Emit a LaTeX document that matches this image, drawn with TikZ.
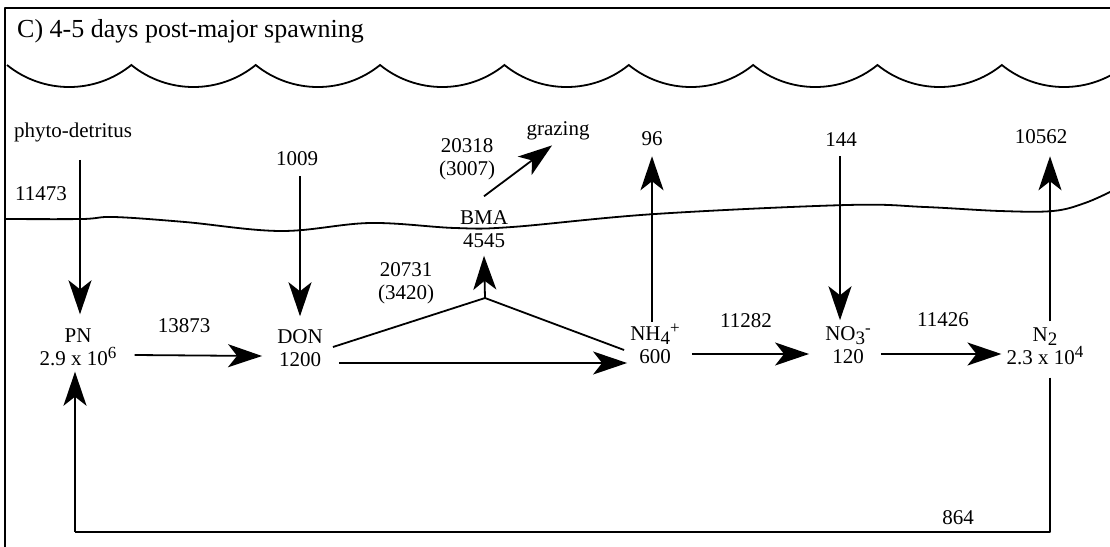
\documentclass[tikz,border=0pt]{standalone}
\usepackage{fontspec}
\setmainfont{Liberation Serif}
\usetikzlibrary{arrows.meta}
% lowered and raised indices set in running text
\newcommand\lowr[1]{\raisebox{-4pt}{\fontsize{19}{19}\selectfont #1}}
\newcommand\highr[1]{\raisebox{7pt}{\fontsize{17}{17}\selectfont #1}}
\begin{document}
\begin{tikzpicture}[x=1pt,y=-1pt,
  txt/.style={inner sep=0pt, font=\fontsize{21}{23}\selectfont},
  qty/.style={txt, align=center},
  ln/.style={line width=1.8pt, line join=round},
  arr/.style={ln, -{Stealth[length=34pt,width=23pt,inset=9pt]}},
  wave/.style={line width=1.8pt}]
\useasboundingbox (0,0) rectangle (1110,546);
\begin{scope}
\clip (5,0) rectangle (1110,546);
% water surface: a row of scallops
\draw[wave] (7,65)
  \foreach \i in {0,...,8} { arc[start angle=129, end angle=51, radius=98.8] };
% sediment surface
\draw[wave] plot[smooth, tension=0.6] coordinates {
  (4,219) (82,219) (114,217) (185,222) (281,231) (370,223) (455,228)
  (512,227) (655,214) (847,205) (925,207) (1000,211) (1053,211) (1085,203) (1112,191)};
\end{scope}
% frame
\draw[ln, line cap=rect] (5,546) -- (5,8) -- (1112,8);
\node[txt, font=\fontsize{26}{28}\selectfont, anchor=base west] (title) at (17,37) {C) 4-5 days post-major spawning};

% pools
\node[qty] (PN)  at (78,347)  {PN\\2.9 x 10\highr{6}};
\node[qty] (DON) at (300,348) {DON\\1200};
\node[qty] (BMA) at (484,229) {BMA\\4545};
\node[qty] (NH4) at (655,344) {NH\lowr{4}\highr{+}\\600};
\node[qty] (NO3) at (848,345) {NO\lowr{3}\highr{-}\\120};
\node[qty] (N2)  at (1045,346) {N\lowr{2}\\2.3 x 10\highr{4}};

% sources and sinks
\node[txt] (phyto) at (73,132)  {phyto-detritus};
\node[txt] (donin) at (297,159) {1009};
\node[txt] (graz)  at (558,131) {grazing};
\node[txt] (nhout) at (652,139) {96};
\node[txt] (noin)  at (841,140) {144};
\node[txt] (nnout) at (1041,137) {10562};

% flux labels
\node[txt] (f1) at (41,194)  {11473};
\node[txt] (f2) at (184,326) {13873};
\node[qty] (f3) at (406,283) {20731\\(3420)};
\node[qty] (f4) at (467,159) {20318\\(3007)};
\node[txt] (f5) at (746,321) {11282};
\node[txt] (f6) at (943,320) {11426};
\node[txt] (f7) at (958,518) {864};

% fluxes
\draw[arr] ([xshift=7pt,yshift=-18pt]phyto.south) -- ([xshift=2pt,yshift=14pt]PN.north);
\draw[arr] ([xshift=3pt,yshift=-10pt]donin.south) -- ([yshift=13pt]DON.north);
\draw[arr] ([xshift=18pt,yshift=-8pt]PN.east) -- ([xshift=-15pt,yshift=-8pt]DON.west);
\draw[arr] ([xshift=16pt,yshift=-15pt]DON.east) -- ([xshift=-3pt,yshift=-19pt]NH4.west);
\coordinate (apex) at (485,298);
\draw[ln] ([xshift=10pt,yshift=1pt]DON.east) -- (apex) -- ([xshift=-6pt,yshift=-6pt]NH4.west);
\draw[arr] (apex) -- ([yshift=-8pt]BMA.south);
\draw[arr] ([yshift=14pt]BMA.north) -- ([xshift=-6pt,yshift=-5pt]graz.south);
\draw[arr] ([xshift=-3pt,yshift=2pt]NH4.north) -- ([yshift=-10pt]nhout.south);
\draw[arr] ([xshift=12pt,yshift=-10pt]NH4.east) -- ([xshift=-16pt,yshift=-9pt]NO3.west);
\draw[arr] ([xshift=-1pt,yshift=-9pt]noin.south) -- ([xshift=-8pt,yshift=6pt]NO3.north);
\draw[arr] ([xshift=10pt,yshift=-9pt]NO3.east) -- ([xshift=-5pt,yshift=-8pt]N2.west);
\draw[arr] ([xshift=5pt,yshift=6pt]N2.north) -- ([xshift=9pt,yshift=-12pt]nnout.south);
\coordinate (bR) at (1050,532);
\coordinate (bL) at (75,532);
\draw[ln] ([xshift=5pt,yshift=-13pt]N2.south) -- (bR) -- (bL);
\draw[arr] (bL) -- ([xshift=-3pt,yshift=-6pt]PN.south);
\end{tikzpicture}
\end{document}
